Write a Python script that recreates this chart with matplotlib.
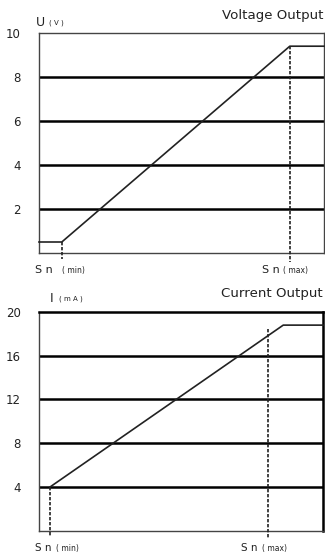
import matplotlib
matplotlib.use("Agg")
import matplotlib.pyplot as plt

# Voltage output
v_x = [0, 8, 88, 100]
v_y = [0.5, 0.5, 9.4, 9.4]
v_ticks = [2, 4, 6, 8, 10]
v_sn_min = 8
v_sn_max = 88

# Current output
i_x = [3.9, 86, 100]
i_y = [4, 18.8, 18.8]
i_ticks = [4, 8, 12, 16, 20]
i_sn_min = 3.9
i_sn_max = 80.6
i_sn_max_top = 18.4

plt.rcParams['font.family'] = ['DejaVu Sans']
W, H = 325, 558
fig = plt.figure(figsize=(W / 100, H / 100), dpi=100)

gray = '#444444'
tc = '#222222'


def ftext(x, y, s, size, ha='left', va='center'):
    fig.text(x / W, 1 - y / H, s, fontsize=size, color=tc, ha=ha, va=va)


def setup(ax, ymax, ticks):
    ax.set_xlim(0, 100)
    ax.set_ylim(0, ymax)
    ax.set_xticks([])
    ax.set_yticks(ticks)
    ax.set_yticklabels([str(t) for t in ticks], fontsize=8.5, color=tc)
    ax.tick_params(axis='y', length=0, pad=13)
    for t in ticks:
        if t < ymax:
            ax.axhline(t, color='black', lw=1.8, zorder=1)
    for s in ax.spines.values():
        s.set_color(gray)
        s.set_linewidth(1.0)


dash = (0, (2, 1))

# top chart
ax1 = fig.add_axes([39 / W, (H - 253) / H, 285 / W, 220 / H])
setup(ax1, 10, v_ticks)
ax1.plot(v_x, v_y, color=tc, lw=1.2, zorder=3, clip_on=False)
ax1.plot([v_sn_min, v_sn_min], [0.5, -0.25], color=tc, lw=1.2,
         ls=dash, clip_on=False, zorder=3)
ax1.plot([v_sn_max, v_sn_max], [9.4, -0.4], color=tc, lw=1.2,
         ls=dash, clip_on=False, zorder=3)
ftext(36, 22, 'U', 9)
ftext(49, 23, '( V )', 5)
ftext(324, 16, 'Voltage Output', 9.6, ha='right')
ftext(35, 270, 'S n', 8)
ftext(62, 270.5, '( min)', 5.5)
ftext(262, 270, 'S n', 8)
ftext(283, 270.5, '( max)', 5.5)

# bottom chart
ax2 = fig.add_axes([39 / W, (H - 530.7) / H, 284 / W, (530.7 - 312) / H])
setup(ax2, 20, i_ticks)
ax2.spines['top'].set_color('black')
ax2.spines['top'].set_linewidth(1.8)
ax2.spines['right'].set_color('black')
ax2.spines['right'].set_linewidth(1.8)
ax2.plot(i_x, i_y, color=tc, lw=1.2, zorder=3, clip_on=False)
ax2.plot([i_sn_min, i_sn_min], [4, -0.5], color=tc, lw=1.2,
         ls=dash, clip_on=False, zorder=3)
ax2.plot([i_sn_max, i_sn_max], [i_sn_max_top, -0.7], color=tc, lw=1.2,
         ls=dash, clip_on=False, zorder=3)
ftext(50, 298, 'I', 9)
ftext(59, 299, '( m A )', 5)
ftext(323, 294, 'Current Output', 9.6, ha='right')
ftext(35, 548, 'S n', 7.5)
ftext(56, 548.5, '( min)', 5.5)
ftext(241, 548, 'S n', 7.5)
ftext(262, 548.5, '( max)', 5.5)

fig.savefig('out.png', dpi=100)
